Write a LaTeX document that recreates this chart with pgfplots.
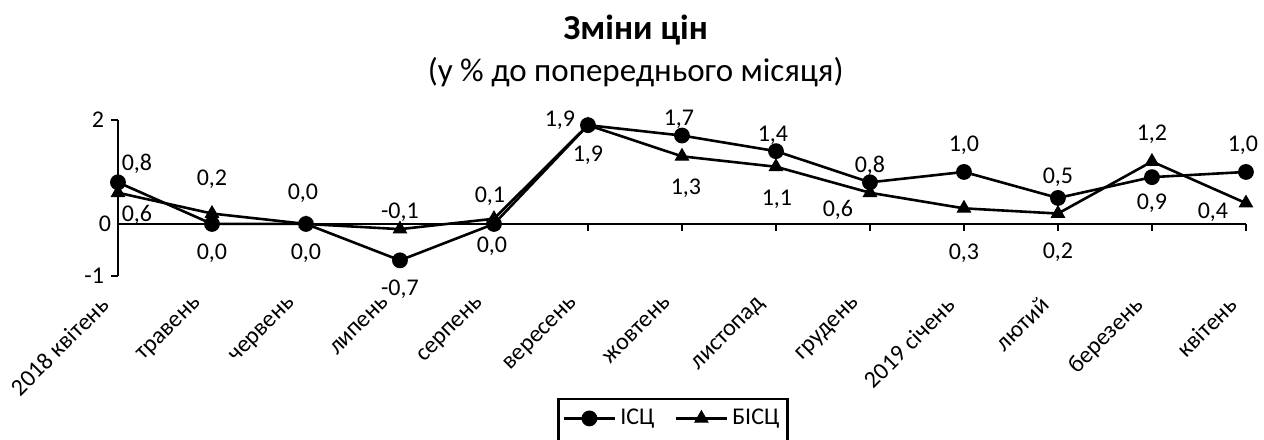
\documentclass[border=0pt]{standalone}
\usepackage{pgfplots}
\usepackage{pgfplotstable}
\pgfplotsset{compat=1.18}
\usepackage{fontspec}
\setmainfont{Carlito}

% i, value, label, label shift x/y (pt)
\pgfplotstableread{
i  v     lab   lx    ly
0  0.8   0,8   9.5   9.5
1  0.0   0,0   0    -14.5
2  0.0   0,0   0    -14.5
3  -0.7  -0,7  0    -14.5
4  0.0   0,0   -1   -11
5  1.9   1,9   0    -15
6  1.7   1,7   -1.5  8
7  1.4   1,4   -1.5  8
8  0.8   0,8   0     8.5
9  1.0   1,0   0     13.5
10 0.5   0,5   0     10.5
11 0.9   0,9   0    -13
12 1.0   1,0   -1.5  13.5
}\ics

\pgfplotstableread{
i  v     lab   lx    ly
0  0.6   0,6   9.5  -11
1  0.2   0,2   0     17
2  0.0   0,0   -1.5  15.5
3  -0.1  -0,1  0     8.5
4  0.1   0,1   -2    11
5  1.9   1,9   -14   2.5
6  1.3   1,3   2    -16
7  1.1   1,1   0.5  -16.5
8  0.6   0,6   -16  -8.5
9  0.3   0,3   0    -22.5
10 0.2   0,2   0    -19.5
11 1.2   1,2   0     13.5
12 0.4   0,4   -16.5 -4.5
}\bics

\begin{document}
\begin{tikzpicture}[font=\fontsize{12}{14}\selectfont]
\begin{axis}[
    name=ax,
    width=564pt, height=78pt,
    scale only axis,
    clip=false,
    axis x line=middle,
    axis y line=left,
    axis line style={-, line width=1.3pt},
    xmin=0, xmax=12,
    ymin=-1, ymax=2,
    xtick={0,...,12},
    xticklabels={2018 квітень,травень,червень,липень,серпень,вересень,жовтень,листопад,грудень,2019 січень,лютий,березень,квітень},
    xticklabel style={xshift=-9.5pt, yshift=-30.5pt, rotate=45, anchor=north east, inner sep=1pt},
    ytick={-1,2},
    extra y ticks={0},
    extra y tick style={major tick length=0pt},
    tick align=outside,
    major tick length=3.5pt,
    tick style={line width=1.3pt, black},
    tick label style={font=\fontsize{12}{14}\selectfont},
    hide obscured x ticks=false,
    hide obscured y ticks=false,
    /pgf/number format/assume math mode=true,
    nodes near coords,
    point meta=explicit symbolic,
    nodes near coords style={anchor=center, xshift=\lx pt, yshift=\ly pt, font=\fontsize{12}{14}\selectfont},
    visualization depends on={\thisrow{lx} \as \lx},
    visualization depends on={\thisrow{ly} \as \ly},
    legend columns=2,
    legend style={at={(0.492,-0.782)}, anchor=north, draw=black, line width=1.2pt,
        font=\fontsize{12}{14}\selectfont,
        /tikz/every even column/.append style={column sep=8pt}, inner xsep=2pt, inner ysep=3pt},
    legend image code/.code={
        \path[draw=none, fill=none] (0cm,0cm) -- (0cm,-0.45cm);
        \draw[line width=1.3pt] (0cm,0cm) -- (0.9cm,0cm);
        \draw[line width=1.3pt] plot coordinates {(0.45cm,0cm)};
    },
]
\addplot[black, line width=1.3pt, mark=*, mark size=3.3pt]
    table[x=i, y=v, meta=lab] {\ics};
\addlegendentry{ІСЦ}
\addplot[black, line width=1.3pt, mark=triangle*, mark size=3.8pt, mark options={line width=0.5pt}]
    table[x=i, y=v, meta=lab] {\bics};
\addlegendentry{БІСЦ}

\node[font=\fontsize{17.5}{20}\selectfont\bfseries] at (rel axis cs:0.459,1.577) {Зміни цін};
\node[font=\fontsize{16.5}{19}\selectfont] at (rel axis cs:0.459,1.308) {(у \% до попереднього місяця)};
\coordinate (bl) at (rel axis cs:-0.1046,-1.051);
\coordinate (tr) at (rel axis cs:1.016,1.769);
\end{axis}
\pgfresetboundingbox
\path (bl) rectangle (tr);
\end{tikzpicture}
\end{document}
